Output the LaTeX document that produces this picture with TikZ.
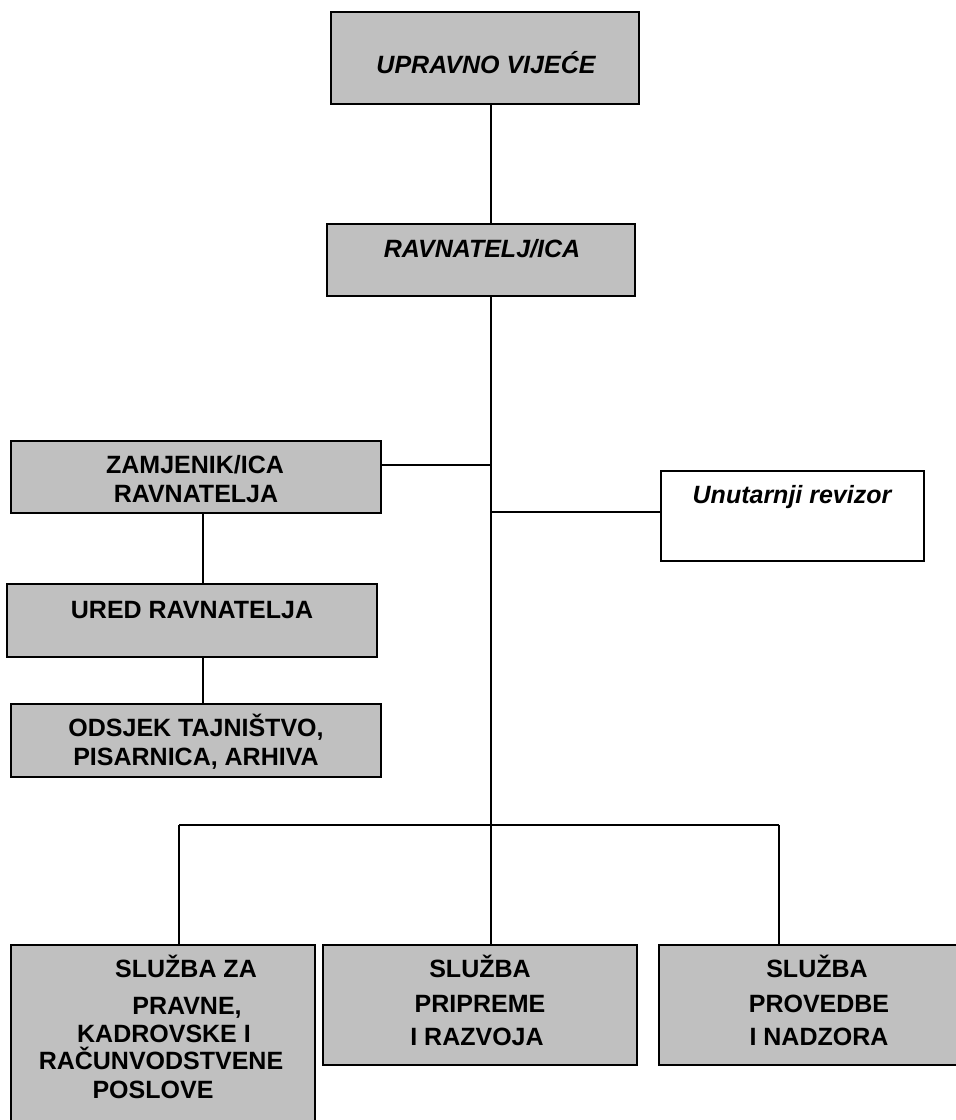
\documentclass[tikz,border=0pt]{standalone}
\usepackage{fontspec}
\setmainfont{Liberation Sans}
\definecolor{boxgray}{HTML}{C0C0C0}
\begin{document}
\begin{tikzpicture}[x=1pt,y=-1pt,
  box/.style={draw=black, line width=2pt, fill=boxgray, inner sep=0pt, outer sep=0pt, anchor=north west},
  wbox/.style={box, fill=white},
  lbl/.style={anchor=base, inner sep=0pt, font=\fontsize{25}{30}\selectfont\bfseries},
  ilbl/.style={anchor=base, inner sep=0pt, font=\fontsize{25}{30}\selectfont\bfseries\itshape},
  conn/.style={line width=2pt, draw=black}]
\useasboundingbox (0,0) rectangle (956,1120);

% boxes
\node[box, minimum width=308pt, minimum height=92pt] (uv) at (331,12) {};
\node[box, minimum width=308pt, minimum height=72pt] (rav) at (327,224) {};
\node[box, minimum width=370pt, minimum height=72pt] (zam) at (11,441) {};
\node[wbox, minimum width=263pt, minimum height=90pt] (rev) at (661,471) {};
\node[box, minimum width=370pt, minimum height=73pt] (ured) at (7,584) {};
\node[box, minimum width=370pt, minimum height=73pt] (odsjek) at (11,704) {};
\node[box, minimum width=304pt, minimum height=200pt] (spk) at (11,945) {};
\node[box, minimum width=314pt, minimum height=120pt] (spr) at (323,945) {};
\node[box, minimum width=310pt, minimum height=120pt] (spn) at (659,945) {};

% junction coordinates
\coordinate (j1) at (491,465);
\coordinate (j2) at (491,512);
\coordinate (hub) at (491,825);
\coordinate (hl) at (179,825);
\coordinate (hr) at (779,825);
\coordinate (lx) at (203,0);

% connectors
\draw[conn] (uv.south -| hub) -- (rav.north -| hub);
\draw[conn] (rav.south -| hub) -- (hub);
\draw[conn] (zam.east |- j1) -- (j1);
\draw[conn] (j2) -- (rev.west |- j2);
\draw[conn] (zam.south -| lx) -- (ured.north -| lx);
\draw[conn] (ured.south -| lx) -- (odsjek.north -| lx);
\draw[conn] (hl) -- (hr);
\draw[conn] (hl) -- (spk.north -| hl);
\draw[conn] (hub) -- (spr.north -| hub);
\draw[conn] (hr) -- (spn.north -| hr);

% labels
\node[ilbl] (t-uv) at (486,73) {UPRAVNO VIJEĆE};
\node[ilbl] (t-rav) at (482,257) {RAVNATELJ/ICA};
\node[lbl] (t-zam1) at (195,473) {ZAMJENIK/ICA};
\node[lbl] (t-zam2) at (196,502) {RAVNATELJA};
\node[lbl] (t-ured) at (192,618) {URED RAVNATELJA};
\node[lbl] (t-ods1) at (196,736) {ODSJEK TAJNIŠTVO,};
\node[lbl] (t-ods2) at (196,765) {PISARNICA, ARHIVA};
\node[ilbl] (t-rev) at (792,503) {Unutarnji revizor};

\node[lbl] (t-spk1) at (186,977) {SLUŽBA ZA};
\node[lbl] (t-spk2) at (187,1014) {PRAVNE,};
\node[lbl] (t-spk3) at (164,1042) {KADROVSKE I};
\node[lbl] (t-spk4) at (161,1069) {RAČUNVODSTVENE};
\node[lbl] (t-spk5) at (153,1098) {POSLOVE};

\node[lbl] (t-spr1) at (480,977) {SLUŽBA};
\node[lbl] (t-spr2) at (480,1012) {PRIPREME};
\node[lbl] (t-spr3) at (477,1045) {I RAZVOJA};

\node[lbl] (t-spn1) at (817,977) {SLUŽBA};
\node[lbl] (t-spn2) at (819,1012) {PROVEDBE};
\node[lbl] (t-spn3) at (819,1045) {I NADZORA};
\end{tikzpicture}
\end{document}
